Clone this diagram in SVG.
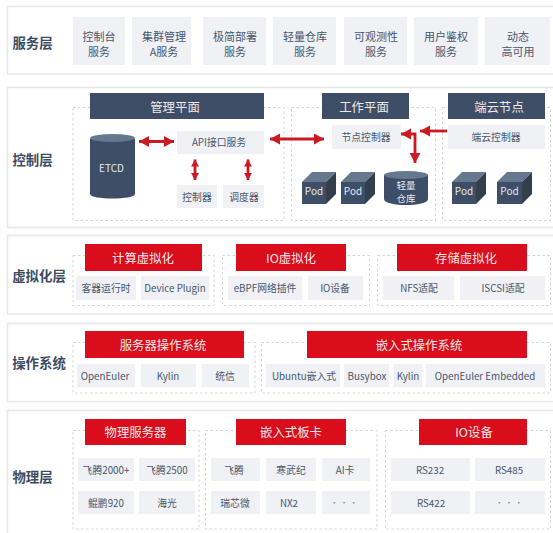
<svg xmlns="http://www.w3.org/2000/svg" width="553" height="533" viewBox="0 0 553 533">
<style>
text{font-family:"Noto Sans CJK SC","Noto Sans",sans-serif;text-anchor:middle}
.layer{fill:#fff;stroke:#e8e8ea;stroke-width:1.5}
.dash{fill:none;stroke:#d4d4d6;stroke-width:1;stroke-dasharray:2.5 2.5}
.box{fill:#f0f1f4}
.t{font-size:9.8px;fill:#46566e}
.s{font-size:11px;fill:#46566e}
.lt{font-size:13.4px;font-weight:700;fill:#3c4c63}
.nav{fill:#3d4e66}
.red{fill:#d90d1b}
.h{font-size:12.4px;fill:#f3e9ea}
.w{font-size:10px;fill:#e6eaf0}
.d{font-size:8px;fill:#7d8796}
.a{fill:none;stroke:#cc1a22;stroke-width:2.8}
.top{fill:#66788e}
.side{fill:#343f4e}
</style>
<defs>
<marker id="ah" markerUnits="userSpaceOnUse" markerWidth="12" markerHeight="12" refX="10" refY="5.500" orient="auto-start-reverse"><path d="M0 0L10 5.500L0 11z" fill="#cc1a22"/></marker>
<marker id="as" markerUnits="userSpaceOnUse" markerWidth="9" markerHeight="10" refX="7" refY="4" orient="auto-start-reverse"><path d="M0 0L7 4L0 8z" fill="#cc1a22"/></marker>
</defs>

<g id="layer-service">
<rect class="layer" x="7.5" y="6.5" width="560" height="67.5"/>
<text class="lt" x="32.500" y="47.500">服务层</text>
<rect class="box" x="73" y="17" width="52" height="48"/><text class="s" x="99" y="40.500">控制台</text><text class="s" x="99" y="55.500">服务</text>
<rect class="box" x="132" y="17" width="59" height="48"/><text class="s" x="164" y="40.500">集群管理</text><text class="s" x="164" y="55.500">A服务</text>
<rect class="box" x="203" y="17" width="63" height="48"/><text class="s" x="235" y="40.500">极简部署</text><text class="s" x="235" y="55.500">服务</text>
<rect class="box" x="273" y="17" width="63" height="48"/><text class="s" x="305" y="40.500">轻量仓库</text><text class="s" x="305" y="55.500">服务</text>
<rect class="box" x="344" y="17" width="63" height="48"/><text class="s" x="376" y="40.500">可观测性</text><text class="s" x="376" y="55.500">服务</text>
<rect class="box" x="414" y="17" width="64" height="48"/><text class="s" x="446" y="40.500">用户鉴权</text><text class="s" x="446" y="55.500">服务</text>
<rect class="box" x="485" y="17" width="65" height="48"/><text class="s" x="518" y="40.500">动态</text><text class="s" x="518" y="55.500">高可用</text>
</g>

<g id="layer-control">
<rect class="layer" x="7.5" y="87.5" width="560" height="140"/>
<text class="lt" x="32.500" y="165">控制层</text>
<rect class="dash" x="73" y="107.500" width="211" height="113"/>
<rect class="dash" x="291.500" y="107.500" width="144" height="113"/>
<rect class="dash" x="442.500" y="107.500" width="108" height="113"/>
</g>

<g id="plane-management"><rect class="nav" x="90" y="93" width="174" height="26"/><text class="h" x="175" y="111.500">管理平面</text></g>
<g id="plane-worker"><rect class="nav" x="322" y="93" width="87" height="26"/><text class="h" x="364" y="111.500">工作平面</text></g>
<g id="plane-edge"><rect class="nav" x="448" y="93" width="97" height="26"/><text class="h" x="499" y="111.500">端云节点</text></g>

<g id="etcd"><path class="nav" d="M90 139V194C90 200 135 200 135 194V139z"/><ellipse class="top" cx="112.500" cy="138" rx="22.500" ry="4"/><text class="w" x="111.500" y="171.500">ETCD</text></g>
<g id="api"><rect class="box" x="177" y="131" width="87" height="23"/><text class="t" x="219" y="146">API接口服务</text></g>
<g id="controller"><rect class="box" x="177" y="185" width="40" height="23"/><text class="t" x="197" y="201">控制器</text></g>
<g id="scheduler"><rect class="box" x="223" y="185" width="41" height="23"/><text class="t" x="244" y="201">调度器</text></g>
<g id="node-controller"><rect class="box" x="332" y="125" width="69" height="24"/><text class="t" x="366" y="140.500">节点控制器</text></g>
<g id="edge-controller"><rect class="box" x="448" y="125" width="97" height="24"/><text class="t" x="496" y="140.500">端云控制器</text></g>

<g id="pod-1"><path class="top" d="M302 182L312 172H336L326 182z"/><path class="side" d="M326 182L336 172V194L326 204z"/><rect class="nav" x="302" y="182" width="24" height="22"/><text class="w" x="314" y="195">Pod</text></g>
<g id="pod-2"><path class="top" d="M341 182L351 172H375L365 182z"/><path class="side" d="M365 182L375 172V194L365 204z"/><rect class="nav" x="341" y="182" width="24" height="22"/><text class="w" x="353" y="195">Pod</text></g>
<g id="registry"><path class="nav" d="M384 175V199C384 207 428 207 428 199V175z"/><ellipse class="top" cx="406" cy="175" rx="22" ry="4"/><text class="t" x="406" y="189" style="font-size:9.5px;fill:#e6eaf0">轻量</text><text class="t" x="406" y="201.500" style="font-size:9.5px;fill:#e6eaf0">仓库</text></g>
<g id="pod-3"><path class="top" d="M452 182L462 172H486L476 182z"/><path class="side" d="M476 182L486 172V194L476 204z"/><rect class="nav" x="452" y="182" width="24" height="22"/><text class="w" x="464" y="195">Pod</text></g>
<g id="pod-4"><path class="top" d="M497 182L507 172H532L522 182z"/><path class="side" d="M522 182L532 172V194L522 204z"/><rect class="nav" x="497" y="182" width="25" height="22"/><text class="w" x="509.500" y="195">Pod</text></g>

<g id="connectors">
<path class="a" d="M139 141.500H174" marker-start="url(#ah)" marker-end="url(#ah)"/>
<path class="a" d="M195 159.500V180" marker-start="url(#as)" marker-end="url(#as)"/>
<path class="a" d="M248 159.500V180" marker-start="url(#as)" marker-end="url(#as)"/>
<path class="a" d="M270 139H324" marker-start="url(#ah)" marker-end="url(#ah)"/>
<path class="a" d="M447 131H420" marker-end="url(#ah)"/>
<path class="a" d="M401 134H415V163" marker-start="url(#ah)" marker-end="url(#ah)"/>
</g>

<g id="layer-virtualization">
<rect class="layer" x="7.5" y="235.500" width="560" height="78.500"/>
<text class="lt" x="39" y="280.500">虚拟化层</text>
<rect class="dash" x="73" y="255.500" width="141" height="50"/>
<rect class="dash" x="222.500" y="255.500" width="147" height="50"/>
<rect class="dash" x="377.500" y="255.500" width="173" height="50"/>
<rect class="red" x="85" y="244" width="117" height="27"/><text class="h" x="143" y="262.500">计算虚拟化</text>
<rect class="red" x="236" y="244" width="110" height="27"/><text class="h" x="291" y="262.500">IO虚拟化</text>
<rect class="red" x="397" y="244" width="130" height="27"/><text class="h" x="466" y="262.500">存储虚拟化</text>
<rect class="box" x="76" y="276" width="60" height="24"/><text class="t" x="106" y="292">客器运行时</text>
<rect class="box" x="141" y="276" width="68" height="24"/><text class="t" x="175" y="291.500">Device Plugin</text>
<rect class="box" x="228" y="276" width="74" height="24"/><text class="t" x="265" y="291.500">eBPF网络插件</text>
<rect class="box" x="308" y="276" width="55" height="24"/><text class="t" x="335" y="291.500">IO设备</text>
<rect class="box" x="383" y="276" width="71" height="24"/><text class="t" x="419" y="291.500">NFS适配</text>
<rect class="box" x="460" y="276" width="85" height="24"/><text class="t" x="503" y="291.500">ISCSI适配</text>
</g>

<g id="layer-os">
<rect class="layer" x="7.5" y="323.500" width="560" height="78"/>
<text class="lt" x="39" y="367.500">操作系统</text>
<rect class="dash" x="73" y="342.500" width="182" height="50.500"/>
<rect class="dash" x="261.500" y="342.500" width="289" height="50.500"/>
<rect class="red" x="85" y="331" width="159" height="27"/><text class="h" x="163" y="350">服务器操作系统</text>
<rect class="red" x="307" y="331" width="220" height="27"/><text class="h" x="419" y="350">嵌入式操作系统</text>
<rect class="box" x="77" y="364" width="58" height="23"/><text class="t" x="105" y="379.500">OpenEuler</text>
<rect class="box" x="141" y="364" width="55" height="23"/><text class="t" x="168" y="379.500">Kylin</text>
<rect class="box" x="202" y="364" width="47" height="23"/><text class="t" x="225" y="379.500">统信</text>
<rect class="box" x="266" y="364" width="74" height="23"/><text class="t" x="304" y="379.500">Ubuntu嵌入式</text>
<rect class="box" x="344" y="364" width="45" height="23"/><text class="t" x="367" y="379.500">Busybox</text>
<rect class="box" x="394" y="364" width="28" height="23"/><text class="t" x="408" y="379.500">Kylin</text>
<rect class="box" x="426" y="364" width="119" height="23"/><text class="t" x="485" y="379.500">OpenEuler Embedded</text>
</g>

<g id="layer-physical">
<rect class="layer" x="7.5" y="410.500" width="560" height="130"/>
<text class="lt" x="32.500" y="481.500">物理层</text>
<rect class="dash" x="73" y="430.500" width="126" height="98.500"/>
<rect class="dash" x="205.500" y="430.500" width="171.500" height="98.500"/>
<rect class="dash" x="385.500" y="430.500" width="165" height="98.500"/>
<rect class="red" x="85" y="419" width="101" height="26"/><text class="h" x="135.500" y="437">物理服务器</text>
<rect class="red" x="236" y="419" width="110" height="26"/><text class="h" x="291" y="437">嵌入式板卡</text>
<rect class="red" x="419" y="419" width="108" height="26"/><text class="h" x="474" y="437">IO设备</text>
<rect class="box" x="78" y="458" width="56" height="23"/><text class="t" x="106" y="474">飞腾2000+</text>
<rect class="box" x="139" y="458" width="56" height="23"/><text class="t" x="167" y="474">飞腾2500</text>
<rect class="box" x="78" y="491" width="56" height="23"/><text class="t" x="106" y="507">鲲鹏920</text>
<rect class="box" x="139" y="491" width="56" height="23"/><text class="t" x="167" y="507">海光</text>
<rect class="box" x="211" y="458" width="49" height="23"/><text class="t" x="234" y="474">飞腾</text>
<rect class="box" x="266" y="458" width="50" height="23"/><text class="t" x="291" y="474">寒武纪</text>
<rect class="box" x="322" y="458" width="48" height="23"/><text class="t" x="345" y="474">AI卡</text>
<rect class="box" x="211" y="491" width="49" height="23"/><text class="t" x="235" y="507">瑞芯微</text>
<rect class="box" x="266" y="491" width="50" height="23"/><text class="t" x="289" y="507">NX2</text>
<rect class="box" x="322" y="491" width="48" height="23"/><text class="d" x="344" y="506">· · ·</text>
<rect class="box" x="391" y="458" width="79" height="23"/><text class="t" x="430" y="474">RS232</text>
<rect class="box" x="475" y="458" width="70" height="23"/><text class="t" x="509" y="474">RS485</text>
<rect class="box" x="391" y="491" width="79" height="23"/><text class="t" x="431" y="507">RS422</text>
<rect class="box" x="475" y="491" width="70" height="23"/><text class="d" x="509" y="506">· · ·</text>
</g>
</svg>
